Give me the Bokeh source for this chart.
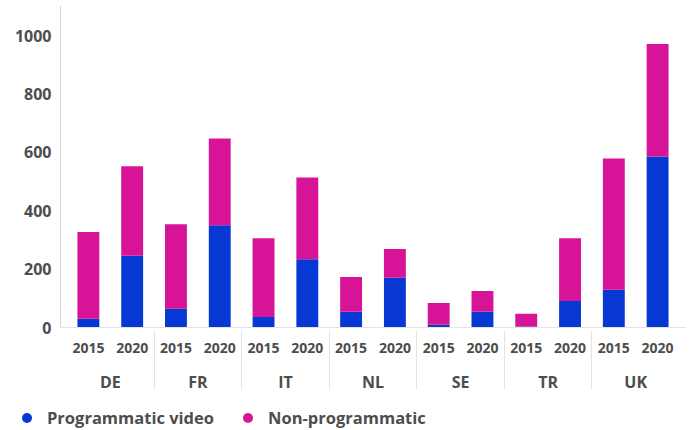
from bokeh.plotting import figure
from bokeh.layouts import column
from bokeh.models import FactorRange, Range1d, FixedTicker, ColumnDataSource, Div
from bokeh.embed import file_html
from bokeh.resources import INLINE

countries = ["DE", "FR", "IT", "NL", "SE", "TR", "UK"]
years = ["2015", "2020"]
programmatic_video = [30, 246, 64, 350, 36, 234, 54, 170, 9, 54, 3, 91, 129, 586]
non_programmatic = [297, 306, 290, 297, 270, 280, 119, 99, 75, 71, 44, 215, 450, 385]
y_ticks = [0, 200, 400, 600, 800, 1000]
series_names = ["Programmatic video", "Non-programmatic"]

BLUE = "#0838d4"
MAGENTA = "#d71497"
TEXT = "#4d4d4d"
FONT = "Open Sans"

factors = [(c, y) for c in countries for y in years]
source = ColumnDataSource(data=dict(x=factors, programmatic=programmatic_video, non=non_programmatic))

x_range = FactorRange(factors=factors, group_padding=0, factor_padding=0, subgroup_padding=0,
                      range_padding=0.137, range_padding_units="absolute")

p = figure(x_range=x_range, y_range=Range1d(0, 1103), width=694, height=395,
           output_backend="svg", toolbar_location=None,
           min_border_left=60, min_border_right=9, min_border_top=5, min_border_bottom=67)
p.outline_line_color = None
p.xgrid.grid_line_color = None
p.ygrid.grid_line_color = None
p.background_fill_color = "white"
p.border_fill_color = "white"

p.vbar_stack(["programmatic", "non"], x="x", width=0.5, fill_color=[BLUE, MAGENTA],
             line_color=None, source=source)

# y axis
p.yaxis.ticker = FixedTicker(ticks=y_ticks)
p.yaxis.axis_line_color = "#d8d8d8"
p.yaxis.major_tick_line_color = None
p.yaxis.minor_tick_line_color = None
p.yaxis.major_tick_out = 0
p.yaxis.major_tick_in = 0
p.yaxis.major_label_standoff = 9
p.yaxis.major_label_text_font = FONT
p.yaxis.major_label_text_font_style = "bold"
p.yaxis.major_label_text_font_size = "16px"
p.yaxis.major_label_text_color = TEXT

# x axis
p.xaxis.axis_line_color = "#e3e3e3"
p.xaxis.major_tick_line_color = None
p.xaxis.minor_tick_line_color = None
p.xaxis.major_tick_out = 0
p.xaxis.major_tick_in = 0
p.xaxis.major_label_standoff = 15
p.xaxis.major_label_text_font = FONT
p.xaxis.major_label_text_font_style = "bold"
p.xaxis.major_label_text_font_size = "14px"
p.xaxis.major_label_text_color = TEXT
p.xaxis.group_text_font = FONT
p.xaxis.group_text_font_style = "bold"
p.xaxis.group_text_font_size = "16px"
p.xaxis.group_text_color = TEXT
p.xaxis.separator_line_color = "#e3e3e3"
p.xaxis.separator_line_width = 1

# legend (HTML, circles + labels)
items_html = ""
for i, (name, col) in enumerate(zip(series_names, [BLUE, MAGENTA])):
    lead = "22px" if i == 0 else "29px"
    items_html += (
        f'<span style="display:inline-flex;align-items:center;margin-left:{lead}">'
        f'<span style="display:inline-block;width:10px;height:10px;border-radius:50%;'
        f'background:{col};margin-right:15px"></span>{name}</span>'
    )
legend_div = Div(
    text=(f'<div style="font-family:\'Open Sans\';font-weight:bold;font-size:16.5px;'
          f'color:{TEXT};line-height:24px;padding-top:10px;white-space:nowrap">{items_html}</div>'),
    width=694, height=35, margin=(0, 0, 0, 0))

layout = column(p, legend_div, spacing=0)
open("out.html", "w").write(file_html(layout, INLINE))
